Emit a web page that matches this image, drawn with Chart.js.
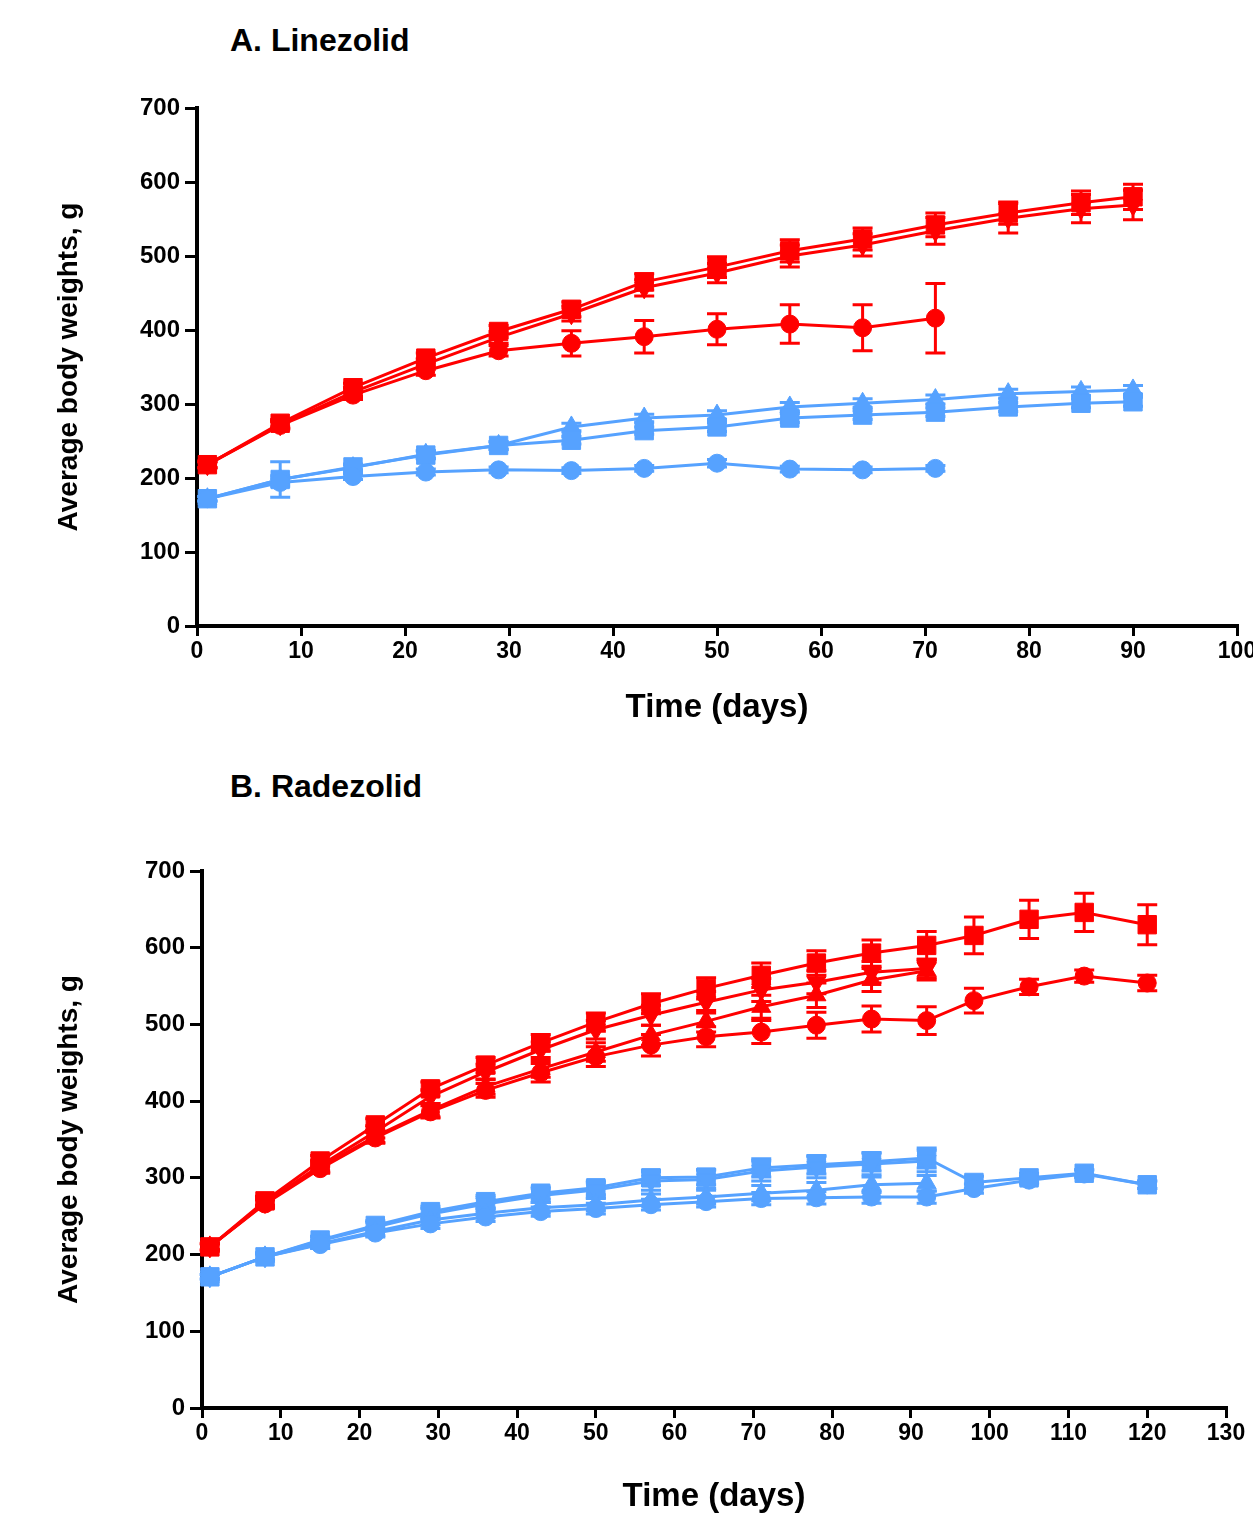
<!DOCTYPE html>
<html lang="en">
<head>
<meta charset="UTF-8">
<title>Body weights</title>
<script src="https://cdn.jsdelivr.net/npm/chart.js"></script>
<style>
  body { margin: 0; width: 1253px; height: 1513px; position: relative; background: #fff; }
  .titulo {
    position: absolute; left: 230px;
    font-family: "Liberation Sans", Arial, sans-serif; font-weight: bold;
    font-size: 32px; line-height: 32px; color: #000;
  }
  .box { position: absolute; left: 0; width: 1253px; }
</style>
</head>
<body>
<div class="titulo" style="top:24px">A. Linezolid</div>
<div class="box" style="top:0; height:740px"><canvas id="chartA"></canvas></div>
<div class="titulo" style="top:770px">B. Radezolid</div>
<div class="box" style="top:740px; height:773px"><canvas id="chartB"></canvas></div>

<script>
// ---- A. Linezolid ----
const lzdDays = [1, 8, 15, 22, 29, 36, 43, 50, 57, 64, 71, 78, 85, 90];
const lzdRedSquare    = [218, 274, 322, 362, 398, 428, 465, 485, 507, 523, 542, 558, 572, 580];
const lzdRedSquareErr = [4, 5, 6, 7, 8, 10, 11, 14, 15, 15, 16, 15, 16, 17];
const lzdRedInvTri    = [218, 272, 316, 354, 390, 422, 457, 477, 500, 515, 534, 551, 564, 569];
const lzdRedInvTriErr = [4, 5, 6, 7, 8, 10, 11, 13, 15, 15, 18, 20, 19, 20];
const lzdRedCircle    = [218, 271, 312, 345, 372, 382, 391, 401, 408, 403, 416];
const lzdRedCircleErr = [4, 5, 6, 6, 7, 17, 22, 21, 26, 31, 47];
const lzdBlueTri      = [172, 198, 214, 232, 244, 269, 281, 285, 296, 301, 306, 314, 317, 319];
const lzdBlueTriErr   = [3, 5, 4, 5, 5, 5, 5, 6, 6, 6, 6, 6, 6, 6];
const lzdBlueSquare   = [172, 198, 215, 231, 244, 251, 264, 269, 281, 285, 289, 296, 301, 303];
const lzdBlueSquareErr = [3, 24, 4, 5, 5, 5, 5, 6, 6, 6, 6, 6, 6, 6];
const lzdBlueCircle   = [172, 194, 202, 208, 211, 210, 213, 220, 212, 211, 213];
const lzdBlueCircleErr = [3, 5, 4, 4, 4, 4, 4, 5, 4, 4, 4];

// ---- B. Radezolid ----
const rzdDays = [1, 8, 15, 22, 29, 36, 43, 50, 57, 64, 71, 78, 85, 92, 98, 105, 112, 120];
const rzdRedSquare    = [210, 270, 322, 369, 416, 447, 476, 503, 527, 547, 564, 580, 593, 603, 616, 637, 646, 630];
const rzdRedSquareErr = [4, 6, 7, 8, 9, 10, 11, 12, 13, 14, 16, 16, 17, 18, 24, 25, 25, 26];
const rzdRedInvTri    = [210, 268, 316, 360, 406, 438, 467, 493, 512, 529, 545, 555, 568, 573];
const rzdRedInvTriErr = [4, 6, 7, 8, 9, 10, 10, 12, 13, 14, 15, 15, 14, 12];
const rzdRedTri       = [210, 267, 314, 354, 388, 419, 442, 464, 486, 504, 523, 538, 558, 570];
const rzdRedTriErr    = [4, 6, 7, 8, 9, 10, 11, 12, 13, 14, 15, 16, 15, 12];
const rzdRedCircle    = [210, 266, 312, 352, 386, 414, 437, 458, 473, 484, 490, 499, 507, 505, 531, 549, 563, 554];
const rzdRedCircleErr = [4, 5, 6, 7, 8, 9, 12, 13, 14, 13, 15, 17, 17, 18, 16, 10, 8, 10];
const rzdBlueSquare    = [171, 197, 219, 238, 256, 269, 280, 287, 300, 301, 313, 317, 321, 326, 294, 300, 306, 291];
const rzdBlueSquareErr = [3, 4, 5, 6, 7, 8, 8, 9, 10, 10, 12, 12, 12, 13, 8, 6, 5, 5];
const rzdBlueInvTri    = [171, 197, 218, 236, 253, 266, 277, 284, 296, 298, 309, 314, 318, 322];
const rzdBlueInvTriErr = [3, 4, 5, 6, 7, 8, 9, 10, 12, 12, 13, 14, 14, 14];
const rzdBlueTri       = [171, 197, 214, 230, 245, 254, 261, 265, 271, 275, 280, 284, 291, 293];
const rzdBlueTriErr    = [3, 4, 5, 5, 6, 6, 7, 8, 8, 9, 10, 10, 10, 10];
const rzdBlueCircle    = [171, 197, 213, 228, 240, 249, 256, 260, 265, 269, 273, 274, 275, 275, 286, 297, 305, 291];
const rzdBlueCircleErr = [3, 4, 5, 5, 6, 6, 6, 7, 7, 7, 8, 8, 8, 8, 6, 5, 5, 5];

const yTicks = [0, 100, 200, 300, 400, 500, 600, 700];

const RED = '#ff0000';
const BLUE = '#56a2ff';
const FONT = '"Liberation Sans", Arial, sans-serif';

// marker sizes per shape
const formas = {
  square: { pointStyle: 'rect', pointRadius: 13, pointRotation: 0 },
  circle: { pointStyle: 'circle', pointRadius: 9, pointRotation: 0 },
  tri:    { pointStyle: 'triangle', pointRadius: 11, pointRotation: 0 },
  invTri: { pointStyle: 'triangle', pointRadius: 11, pointRotation: 180 }
};

function serie(days, vals, errs, cor, forma) {
  const f = formas[forma];
  return {
    data: vals.map((v, i) => ({ x: days[i], y: v })),
    errors: errs,
    borderColor: cor,
    backgroundColor: cor,
    pointBackgroundColor: cor,
    pointBorderColor: cor,
    pointBorderWidth: 1,
    borderWidth: 3,
    tension: 0,
    clip: false,
    pointStyle: f.pointStyle,
    pointRadius: f.pointRadius,
    pointRotation: f.pointRotation
  };
}

// error bars drawn from the scales
const errorBars = {
  id: 'errorBars',
  beforeDatasetsDraw(chart) {
    const ctx = chart.ctx;
    const x = chart.scales.x, y = chart.scales.y;
    ctx.save();
    ctx.lineWidth = 3;
    chart.data.datasets.forEach(ds => {
      if (!ds.errors) return;
      ctx.strokeStyle = ds.borderColor;
      ds.data.forEach((p, i) => {
        const e = ds.errors[i];
        const px = x.getPixelForValue(p.x);
        const yt = y.getPixelForValue(p.y + e);
        const yb = y.getPixelForValue(p.y - e);
        ctx.beginPath();
        ctx.moveTo(px, yt); ctx.lineTo(px, yb);
        ctx.moveTo(px - 10, yt); ctx.lineTo(px + 10, yt);
        ctx.moveTo(px - 10, yb); ctx.lineTo(px + 10, yb);
        ctx.stroke();
      });
    });
    ctx.restore();
  }
};

function opcoes(cfg) {
  return {
    responsive: true,
    maintainAspectRatio: false,
    animation: false,
    layout: { autoPadding: false, padding: { top: cfg.top, right: cfg.right, left: 0, bottom: 0 } },
    plugins: { legend: { display: false }, tooltip: { enabled: false }, title: { display: false } },
    scales: {
      x: {
        type: 'linear', min: 0, max: cfg.xMax,
        afterFit: s => { s.height = cfg.xHeight; s.paddingLeft = 0; s.paddingRight = 0; },
        ticks: { stepSize: 10, color: '#000', padding: 2, maxRotation: 0, autoSkip: false,
                 font: { family: FONT, size: 23, weight: 'bold' } },
        grid: { drawOnChartArea: false, drawTicks: true, tickLength: 10, color: '#000', lineWidth: 3 },
        border: { color: '#000', width: 4 },
        title: { display: true, text: 'Time (days)', color: '#000',
                 font: { family: FONT, size: 33, weight: 'bold', lineHeight: 1 },
                 padding: { top: 0, bottom: cfg.xTitlePad } }
      },
      y: {
        min: 0, max: 700,
        afterFit: s => { s.width = cfg.left; s.paddingTop = 0; s.paddingBottom = 0; },
        afterBuildTicks: s => { s.ticks = yTicks.map(v => ({ value: v })); },
        ticks: { color: '#000', padding: 5, font: { family: FONT, size: 24, weight: 'bold' } },
        grid: { drawOnChartArea: false, drawTicks: true, tickLength: 12, color: '#000', lineWidth: 3 },
        border: { color: '#000', width: 4 },
        title: { display: true, text: 'Average body weights, g', color: '#000',
                 font: { family: FONT, size: 28, weight: 'bold', lineHeight: 1.2 },
                 padding: { top: 52, bottom: 0 } }
      }
    }
  };
}

new Chart(document.getElementById('chartA'), {
  type: 'line',
  data: {
    datasets: [
      serie(lzdDays, lzdBlueCircle, lzdBlueCircleErr, BLUE, 'circle'),
      serie(lzdDays, lzdBlueSquare, lzdBlueSquareErr, BLUE, 'square'),
      serie(lzdDays, lzdBlueTri, lzdBlueTriErr, BLUE, 'tri'),
      serie(lzdDays, lzdRedCircle, lzdRedCircleErr, RED, 'circle'),
      serie(lzdDays, lzdRedInvTri, lzdRedInvTriErr, RED, 'invTri'),
      serie(lzdDays, lzdRedSquare, lzdRedSquareErr, RED, 'square')
    ]
  },
  options: opcoes({ top: 108, right: 16, left: 197, xMax: 100, xHeight: 114, xTitlePad: 16 }),
  plugins: [errorBars]
});

new Chart(document.getElementById('chartB'), {
  type: 'line',
  data: {
    datasets: [
      serie(rzdDays, rzdBlueCircle, rzdBlueCircleErr, BLUE, 'circle'),
      serie(rzdDays, rzdBlueTri, rzdBlueTriErr, BLUE, 'tri'),
      serie(rzdDays, rzdBlueInvTri, rzdBlueInvTriErr, BLUE, 'invTri'),
      serie(rzdDays, rzdBlueSquare, rzdBlueSquareErr, BLUE, 'square'),
      serie(rzdDays, rzdRedCircle, rzdRedCircleErr, RED, 'circle'),
      serie(rzdDays, rzdRedTri, rzdRedTriErr, RED, 'tri'),
      serie(rzdDays, rzdRedInvTri, rzdRedInvTriErr, RED, 'invTri'),
      serie(rzdDays, rzdRedSquare, rzdRedSquareErr, RED, 'square')
    ]
  },
  options: opcoes({ top: 131, right: 27, left: 202, xMax: 130, xHeight: 105, xTitlePad: 0 }),
  plugins: [errorBars]
});
</script>
</body>
</html>
